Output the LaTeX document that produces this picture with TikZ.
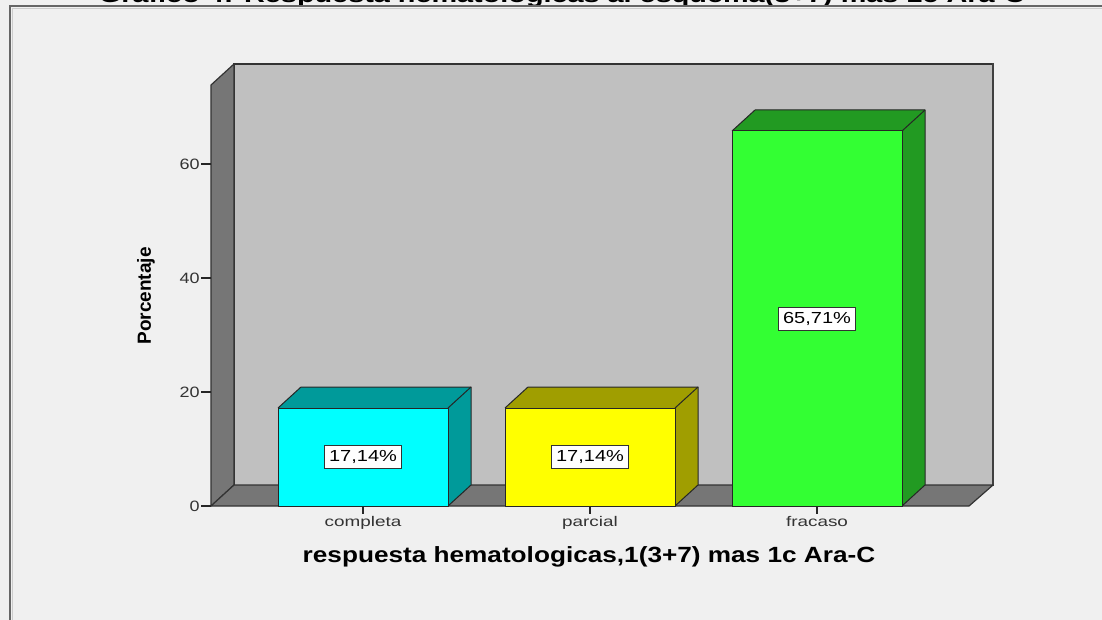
\documentclass[tikz,border=0pt]{standalone}
\usepackage{fontspec}
\setmainfont{Liberation Sans}
\begin{document}
\begin{tikzpicture}[x=1pt,y=-1pt,
  wallside/.style={fill=wallgray,draw=black!80,line width=1.2pt,line join=round},
  barfront/.style={draw=black!85,line width=1pt,line join=round},
  barshade/.style={draw=black!85,line width=1pt,line join=round},
  valbox/.style={draw=black!80,fill=white,line width=0.8pt,inner xsep=3.5pt,inner ysep=5pt,font=\fontsize{16}{17}\selectfont,xscale=1.25,transform shape},
  ticklab/.style={text=black!80,font=\fontsize{15}{16}\selectfont,xscale=1.2,transform shape,anchor=east,inner sep=1pt},
  catlab/.style={text=black!80,font=\fontsize{14}{15}\selectfont,xscale=1.35,transform shape,anchor=north,inner sep=0pt},
  axtitle/.style={font=\bfseries\fontsize{22}{24}\selectfont,xscale=1.19,transform shape,inner sep=0pt},
  tickline/.style={draw=black!85,line width=1.2pt}]
\definecolor{bggray}{HTML}{F0F0F0}
\definecolor{wallgray}{HTML}{767676}
\definecolor{backgray}{HTML}{C0C0C0}
\definecolor{cyanf}{HTML}{00FFFF}
\definecolor{cyans}{HTML}{009A9A}
\definecolor{yelf}{HTML}{FFFF00}
\definecolor{yels}{HTML}{A09E00}
\definecolor{grnf}{HTML}{33FF33}
\definecolor{grns}{HTML}{229A22}
\useasboundingbox (0,0) rectangle (1102,620);
\fill[bggray] (0,0) rectangle (1102,620);
% clipped title
\begin{scope}
\clip (0,0) rectangle (1102,620);
\node[font=\bfseries\fontsize{22}{24}\selectfont,xscale=1.31,transform shape,anchor=base,inner sep=0pt] (title) at (562,2.5) {Gráfico 4: Respuesta hematologicas al esquema(3+7) mas 1c Ara-C};
\end{scope}
% outer frame
\draw[black!60,line width=1.4pt] (10,630) -- (10,6) -- (1110,6);
\draw[white!80!black,line width=0.8pt] (12.5,630) -- (12.5,8.5) -- (1110,8.5);
% walls
\fill[backgray] (234,64) rectangle (993,485);
\draw[black!80,line width=1.2pt] (234,485) -- (234,64) -- (993,64);
\draw[black!75,line width=2.6pt] (993,63) -- (993,486);
\draw[wallside] (211,85) -- (234,64) -- (234,485) -- (211,506) -- cycle;
\draw[wallside] (211,506) -- (234,485) -- (993,485) -- (969,506) -- cycle;
% y ticks
\foreach \v/\yy in {0/506,20/392,40/278,60/164}{
  \coordinate (t\v) at (211,\yy);
  \coordinate (tl\v) at (201,\yy);
  \draw[tickline] (t\v) -- (tl\v);
  \node[ticklab] (lab\v) at (tl\v) {\v};
}
% bars
\foreach \nm/\xl/\yt/\fc/\sc in {completa/278/408/cyanf/cyans,parcial/505/408/yelf/yels,fracaso/732/131/grnf/grns}{
  \pgfmathsetmacro{\xr}{\xl+170}
  \fill[\sc] (\xl,\yt) -- (\xl+23,\yt-21) -- (\xr+23,\yt-21) -- (\xr+23,485) -- (\xr,506) -- (\xr,\yt) -- cycle;
  \draw[barshade] (\xl,\yt) -- (\xl+23,\yt-21) -- (\xr+23,\yt-21) -- (\xr+23,485) -- (\xr,506);
  \draw[barshade] (\xr,\yt) -- (\xr+23,\yt-21);
  \filldraw[barfront,fill=\fc] (\xl,\yt) rectangle (\xr,506);
  \coordinate (c\nm) at (\xl+85,506);
  \coordinate (ct\nm) at (\xl+85,514);
  \draw[tickline] (c\nm) -- (ct\nm);
  \node[catlab] (cat\nm) at (\xl+85,516) {\nm};
}
\node[valbox] (v1) at (363,457) {17,14\%};
\node[valbox] (v2) at (590,457) {17,14\%};
\node[valbox] (v3) at (817,319) {65,71\%};
% axis titles
\node[axtitle] (xtitle) at (589,557) {respuesta hematologicas,1(3+7) mas 1c Ara-C};
\node[font=\bfseries\fontsize{19}{20}\selectfont,rotate=90,inner sep=0pt] (ytitle) at (146,296) {Porcentaje};
\end{tikzpicture}
\end{document}
